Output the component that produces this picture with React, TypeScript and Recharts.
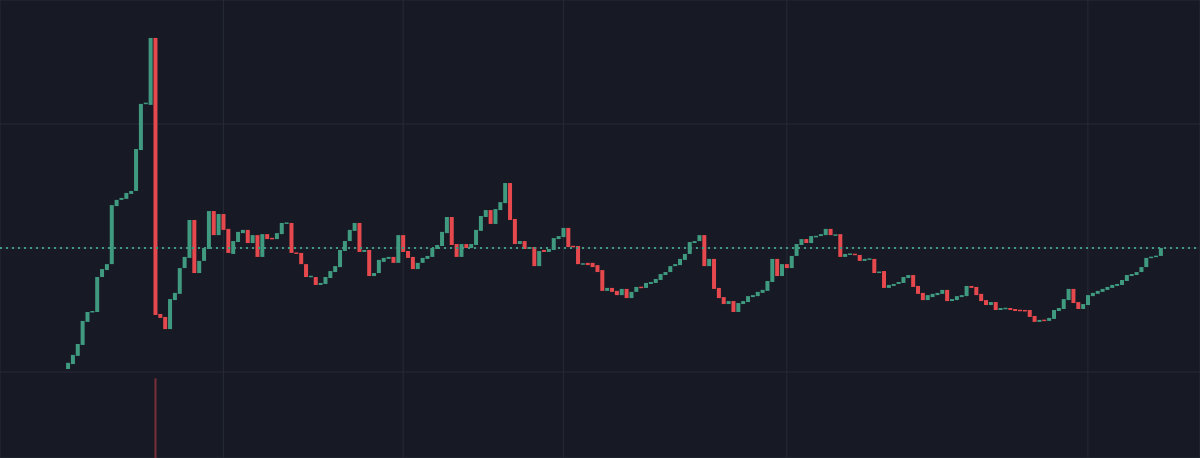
import { ComposedChart, Bar, XAxis, YAxis, CartesianGrid, ReferenceLine } from 'recharts';

// candle opens / closes, one per bar, left to right
const opens = [
  101.2, 103.2, 106.5, 110.9, 120.2, 124.0, 124.2, 138.3, 141.1, 143.5,
  166.9, 169.4, 169.8, 171.8, 173.0, 189.5, 208.1, 207.7, 234.7, 123.4,
  122.2, 117.3, 129.0, 131.5, 141.9, 146.0, 161.3, 139.9, 144.8, 149.6,
  164.9, 155.2, 163.7, 157.7, 147.6, 152.4, 156.0, 157.3, 152.0, 155.2,
  146.4, 155.6, 154.0, 153.6, 155.6, 159.9, 160.1, 148.0, 148.0, 143.5,
  138.3, 138.3, 135.1, 135.5, 137.9, 140.3, 142.3, 148.8, 152.8, 156.9,
  160.1, 148.4, 149.2, 138.7, 139.9, 144.4, 145.6, 146.4, 144.0, 155.2,
  148.8, 146.4, 141.5, 144.0, 145.6, 146.4, 149.6, 150.8, 156.0, 162.5,
  151.6, 146.4, 151.6, 150.0, 151.2, 156.9, 162.5, 165.3, 159.7, 165.3,
  168.1, 176.2, 161.7, 151.6, 152.8, 149.6, 150.4, 142.7, 149.2, 148.4,
  149.2, 153.6, 154.4, 158.1, 150.8, 150.8, 143.3, 144.0, 144.0, 143.1,
  141.1, 132.7, 133.9, 132.7, 131.0, 133.5, 129.8, 132.3, 134.3, 133.9,
  135.5, 135.9, 137.1, 139.1, 140.3, 142.7, 143.1, 145.2, 147.6, 152.0,
  152.8, 155.2, 142.7, 145.6, 133.9, 130.2, 127.4, 128.6, 124.2, 127.4,
  128.2, 130.2, 130.6, 131.9, 132.7, 136.3, 145.6, 138.7, 143.5, 141.9,
  146.8, 151.2, 153.6, 152.0, 154.4, 154.8, 155.2, 157.7, 155.0, 155.6,
  146.4, 147.4, 147.6, 147.2, 144.8, 145.4, 145.6, 140.0, 140.7, 133.9,
  134.7, 135.5, 135.9, 137.9, 139.1, 134.7, 131.9, 129.0, 130.2, 131.0,
  131.5, 133.1, 128.6, 129.0, 130.2, 130.6, 134.7, 134.3, 131.5, 129.0,
  127.0, 128.2, 125.0, 125.4, 125.8, 125.4, 125.0, 124.8, 125.0, 122.6,
  120.2, 121.0, 120.6, 121.4, 124.6, 125.4, 129.0, 133.5, 128.2, 125.4,
  127.0, 130.6, 131.5, 132.3, 133.1, 133.9, 134.7, 135.1, 136.7, 138.7,
  139.1, 140.3, 142.3, 146.0, 146.4, 146.8,
];

const closes = [
  103.7, 106.9, 111.3, 120.6, 124.2, 124.6, 138.3, 141.5, 143.5, 167.3,
  169.4, 170.2, 172.2, 173.0, 189.9, 208.1, 208.5, 234.7, 123.0, 121.8,
  117.3, 129.4, 131.9, 141.9, 146.4, 161.3, 139.9, 144.8, 150.0, 164.9,
  155.2, 163.7, 157.3, 148.0, 152.8, 156.5, 157.3, 152.0, 155.2, 146.4,
  155.6, 153.6, 153.6, 156.0, 160.1, 160.1, 148.0, 147.8, 143.5, 138.3,
  138.7, 135.1, 135.9, 138.3, 140.7, 142.7, 149.2, 152.8, 157.3, 160.1,
  148.4, 149.2, 138.7, 139.9, 145.2, 146.0, 146.4, 144.0, 155.2, 148.4,
  146.0, 141.5, 144.0, 146.0, 146.8, 150.0, 151.2, 156.5, 162.5, 151.2,
  146.4, 151.6, 150.0, 151.6, 157.3, 162.9, 165.3, 159.7, 165.7, 168.5,
  176.2, 161.3, 151.6, 152.8, 149.6, 150.4, 142.7, 148.8, 148.4, 149.6,
  154.0, 154.8, 158.1, 150.4, 150.4, 143.5, 143.8, 143.1, 142.3, 140.3,
  132.7, 133.9, 132.3, 131.0, 133.5, 129.8, 132.3, 134.3, 133.9, 135.9,
  136.3, 137.5, 139.5, 140.3, 142.7, 143.5, 145.6, 147.6, 152.4, 152.8,
  155.2, 142.7, 145.6, 133.5, 129.8, 127.4, 128.6, 124.2, 127.8, 128.6,
  130.6, 131.0, 132.3, 133.1, 136.7, 145.6, 138.7, 143.5, 141.9, 146.8,
  151.6, 153.6, 152.0, 154.8, 154.8, 155.6, 157.7, 155.2, 155.4, 146.4,
  147.6, 147.6, 147.2, 144.8, 145.6, 145.6, 139.9, 140.4, 133.9, 135.1,
  135.5, 136.3, 138.3, 139.1, 134.3, 131.5, 129.0, 131.0, 131.5, 131.9,
  133.1, 128.6, 129.4, 130.6, 131.0, 134.7, 133.9, 131.0, 128.6, 127.0,
  128.2, 125.0, 125.8, 125.8, 125.0, 124.6, 124.6, 124.6, 122.2, 120.2,
  121.0, 120.6, 121.8, 125.0, 125.8, 129.4, 133.5, 127.8, 125.4, 127.4,
  131.0, 131.9, 132.7, 133.5, 134.3, 135.1, 135.5, 137.1, 139.1, 139.5,
  140.3, 142.3, 146.0, 146.4, 146.8, 150.0,
];

// only the spike bar shows any volume in view (millions)
const volumeAt: Record<number, number> = { 18: 8.7 };

// bars where the time scale draws its vertical grid lines
const timeTicks = [32, 69, 102, 148, 210];
const priceTicks = [100, 150, 200];

const UP = '#3f9a80';
const DOWN = '#e5484d';
const BG = '#171a25';
const GRID = '#272b37';
const X_DOMAIN: [number, number] = [-14, 233.07];

const data = closes.map((c, i) => ({
  i,
  open: opens[i],
  close: c,
  body: [Math.min(opens[i], c), Math.max(opens[i], c)],
  vol: volumeAt[i] ?? null,
}));

const Candle = (props: any) => {
  const { x, y, width, height, payload } = props;
  if (x == null || y == null || isNaN(y)) return null;
  const up = payload.close >= payload.open;
  const cx = x + width / 2;
  const hh = height || 0;
  const h = Math.max(hh, 1.5);
  const top = hh < 1.5 ? y - (1.5 - hh) / 2 : y;
  return <rect x={cx - 2} y={top} width={4} height={h} fill={up ? UP : DOWN} />;
};

const VolBar = (props: any) => {
  const { x, y, width, height } = props;
  if (!height || isNaN(y)) return null;
  const cx = x + width / 2;
  return <rect x={cx - 1} y={y} width={2} height={height} fill="#7a2f38" />;
};

export default function App() {
  return (
    <div style={{ width: 1200, height: 458, background: BG, overflow: 'hidden' }}>
      <style>{`body{margin:0;background:${BG}}`}</style>
      <ComposedChart width={1200} height={458} data={data} margin={{ top: 0, right: 0, bottom: 0, left: 0 }}>
        <CartesianGrid stroke={GRID} xAxisId="t" yAxisId="price" />
        <XAxis xAxisId="t" type="number" dataKey="i" domain={X_DOMAIN} ticks={timeTicks} allowDataOverflow hide />
        <XAxis xAxisId="v" type="number" dataKey="i" domain={X_DOMAIN} allowDataOverflow hide />
        <YAxis yAxisId="price" domain={[65.32, 250]} ticks={priceTicks} allowDataOverflow hide />
        <YAxis yAxisId="vol" orientation="right" domain={[0, 50]} allowDataOverflow hide />
        <Bar xAxisId="v" yAxisId="vol" dataKey="vol" shape={<VolBar />} isAnimationActive={false} />
        <Bar xAxisId="t" yAxisId="price" dataKey="body" shape={<Candle />} isAnimationActive={false} />
        <ReferenceLine
          xAxisId="t"
          yAxisId="price"
          y={closes[closes.length - 1]}
          stroke={UP}
          strokeWidth={2}
          strokeDasharray="2 4"
        />
      </ComposedChart>
    </div>
  );
}
